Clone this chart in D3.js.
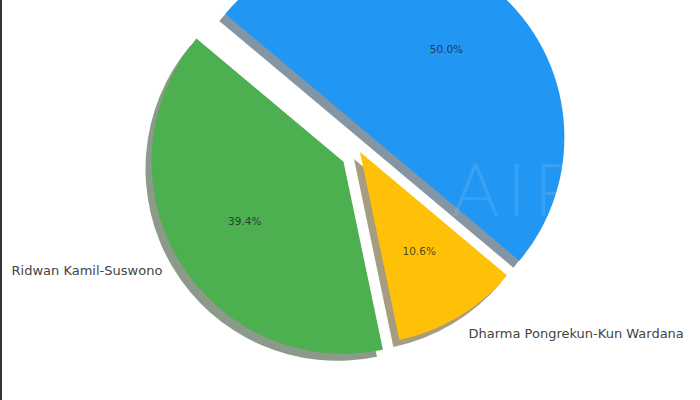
<!DOCTYPE html>
<html>
<head>
<meta charset="utf-8">
<script src="https://cdn.jsdelivr.net/npm/d3@7"></script>
<style>
  html, body { margin: 0; padding: 0; background: #fff; }
  svg { display: block; }
</style>
</head>
<body>
<div id="chart"></div>
<script>
// values
var candidates = ["Ridwan Kamil-Suswono", "Dharma Pongrekun-Kun Wardana", "Pramono Anung-Rano Karno"];
var shares = [39.4, 10.6, 50.0];
var explode = [0.1, 0, 0.1];
var colors = ["#4CAF50", "#FFC107", "#2196F3"];

var width = 700, height = 400;
var cx = 360, cy = 152, radius = 192;
var shadowDx = -6, shadowDy = 7;

var svg = d3.select("#chart")
    .append("svg")
    .attr("width", width)
    .attr("height", height);

// dark strip on the left edge of the screenshot
svg.append("rect")
    .attr("x", 0).attr("y", 0)
    .attr("width", 2).attr("height", height)
    .attr("fill", "#333");

var data = candidates.map(function (c, i) {
    return { name: c, value: shares[i], explode: explode[i], color: colors[i] };
});

// start at 140deg (matplotlib style) and go counter-clockwise
var deg = Math.PI / 180;
var pie = d3.pie()
    .sort(null)
    .value(function (d) { return d.value; })
    .startAngle((90 - 140) * deg)
    .endAngle((90 - 140 - 360) * deg);

var arcs = pie(data);
var arc = d3.arc().innerRadius(0).outerRadius(radius);

function offset(d, dist) {
    var mid = (d.startAngle + d.endAngle) / 2;
    return [Math.sin(mid) * dist, -Math.cos(mid) * dist];
}

var g = svg.append("g").attr("transform", "translate(" + cx + "," + cy + ")");

// shadows first, under every wedge
g.selectAll("path.shadow")
    .data(arcs)
    .enter()
    .append("path")
    .attr("class", "shadow")
    .attr("d", arc)
    .attr("transform", function (d) {
        var o = offset(d, d.data.explode * radius);
        return "translate(" + (o[0] + shadowDx) + "," + (o[1] + shadowDy) + ")";
    })
    .attr("fill", function (d) {
        var c = d3.rgb(d.data.color);
        return d3.rgb(c.r * 0.3, c.g * 0.3, c.b * 0.3);
    })
    .attr("opacity", 0.5);

g.selectAll("path.wedge")
    .data(arcs)
    .enter()
    .append("path")
    .attr("class", "wedge")
    .attr("d", arc)
    .attr("transform", function (d) {
        var o = offset(d, d.data.explode * radius);
        return "translate(" + o[0] + "," + o[1] + ")";
    })
    .attr("fill", function (d) { return d.data.color; });

// faint watermark
svg.append("text")
    .attr("x", 452)
    .attr("y", 216)
    .attr("font-family", "Lato, sans-serif")
    .attr("font-weight", 300)
    .attr("font-size", "72px")
    .attr("letter-spacing", "8px")
    .attr("fill", "#fff")
    .attr("opacity", 0.1)
    .text("AIPI");

// percentage labels
var fmt = d3.format(".1f");
g.selectAll("text.pct")
    .data(arcs)
    .enter()
    .append("text")
    .attr("class", "pct")
    .attr("x", function (d) { return offset(d, d.data.explode * radius + 0.6 * radius)[0]; })
    .attr("y", function (d) { return offset(d, d.data.explode * radius + 0.6 * radius)[1]; })
    .attr("dy", "0.35em")
    .attr("text-anchor", "middle")
    .attr("font-family", "DejaVu Sans")
    .attr("font-size", "10.5px")
    .attr("fill", "#222")
    .attr("fill-opacity", 0.8)
    .text(function (d) { return fmt(d.data.value) + "%"; });

// candidate labels (the one that falls above the frame is not shown, as in the crop)
g.selectAll("text.label")
    .data(arcs.filter(function (d) {
        return cy + offset(d, d.data.explode * radius + 1.1 * radius)[1] > 0;
    }))
    .enter()
    .append("text")
    .attr("class", "label")
    .attr("x", function (d) { return offset(d, d.data.explode * radius + 1.1 * radius)[0]; })
    .attr("y", function (d) { return offset(d, d.data.explode * radius + 1.1 * radius)[1]; })
    .attr("dy", "0.35em")
    .attr("text-anchor", function (d) {
        return offset(d, 1)[0] < 0 ? "end" : "start";
    })
    .attr("font-family", "DejaVu Sans")
    .attr("font-size", "13px")
    .attr("fill", "#444")
    .text(function (d) { return d.data.name; });
</script>
</body>
</html>
